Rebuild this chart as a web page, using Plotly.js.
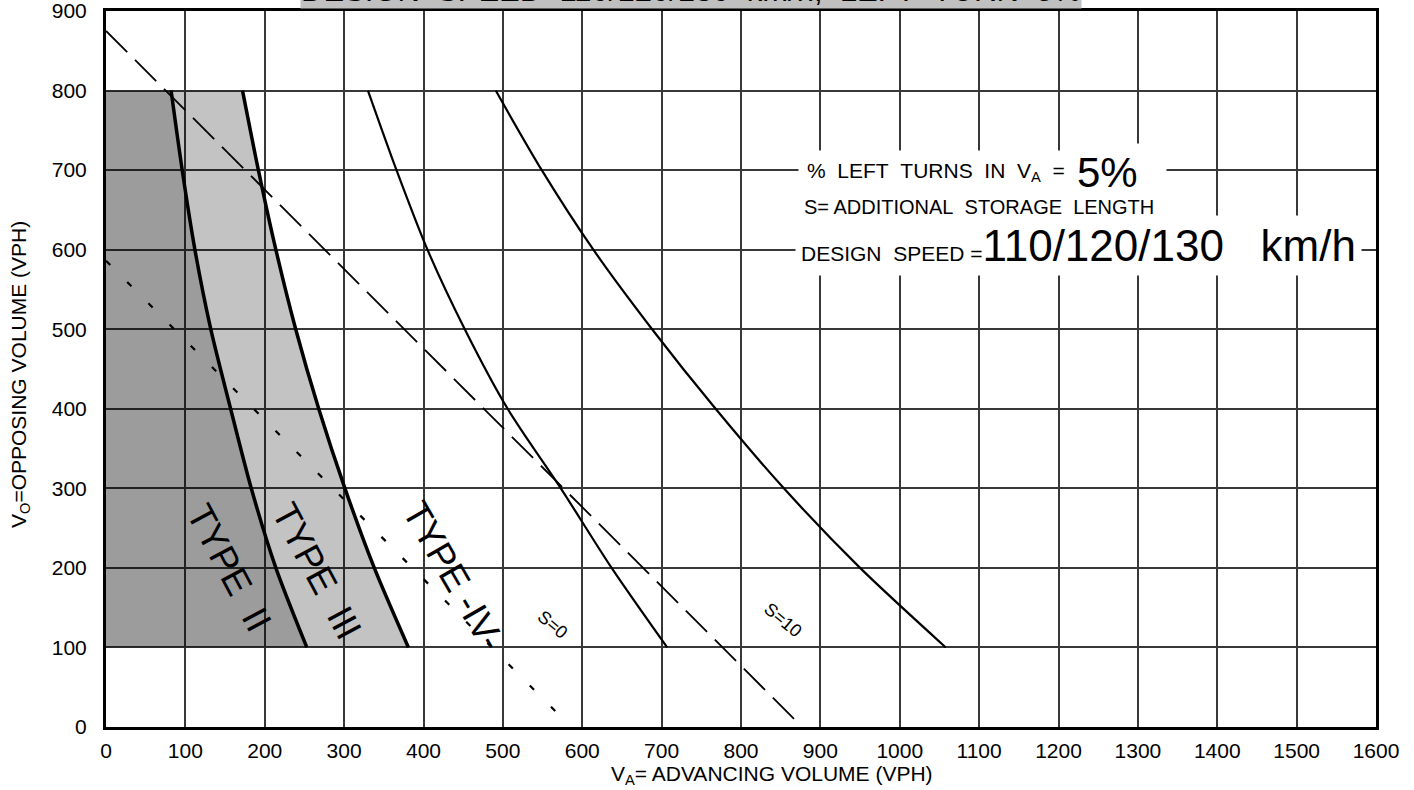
<!DOCTYPE html>
<html>
<head>
<meta charset="utf-8">
<script src="https://cdn.plot.ly/plotly-3.0.1.min.js"></script>
<style>
html,body{margin:0;padding:0;background:#fff;}
#chart{width:1414px;height:790px;}
</style>
</head>
<body>
<div id="chart"></div>
<script>
// ---- data ----
const levels = [800, 700, 600, 500, 400, 300, 200, 100];          // V0 levels (VPH)
const typeIIBoundary = [82, 96, 112, 132, 157, 183, 214, 253];    // VA on TYPE II / III boundary
const typeIIIBoundary = [172, 192, 214, 239, 268, 301, 338, 381]; // VA on TYPE III / IV boundary
const s0Curve = [330, 366, 405, 452, 506, 573, 637, 707];         // S=0
const s10Curve = [491, 549, 614, 688, 768, 854, 950, 1058];       // S=10
const dashedX = [0, 869];
const dashedY = [875, 8];
const dottedX = [0, 570];
const dottedY = [586, 16];
const xTicks = [0,100,200,300,400,500,600,700,800,900,1000,1100,1200,1300,1400,1500,1600];
const xTickText = xTicks.map(String);
const yTicks = [0,100,200,300,400,500,600,700,800,900];
const yTickText = yTicks.map(String);
const typeLabels = ["TYPE\u00a0\u00a0II", "TYPE\u00a0\u00a0III", "TYPE\u00a0-IV-"];
const curveLabels = ["S=0", "S=10"];

const FONT = "Liberation Sans, Arial, sans-serif";
const sp2 = "\u00a0\u00a0";

const traces = [
  { x: levels.map(() => 0), y: levels, mode: "lines", line: {width: 0, color: "rgba(0,0,0,0)"},
    hoverinfo: "skip", showlegend: false },
  { x: typeIIBoundary, y: levels, mode: "lines", fill: "tonextx", fillcolor: "rgba(0,0,0,0.39)",
    line: {color: "#000", width: 3.5, shape: "spline", smoothing: 0.8}, showlegend: false },
  { x: typeIIIBoundary, y: levels, mode: "lines", fill: "tonextx", fillcolor: "rgba(0,0,0,0.235)",
    line: {color: "#000", width: 3.5, shape: "spline", smoothing: 0.8}, showlegend: false },
  { x: s0Curve, y: levels, mode: "lines",
    line: {color: "#000", width: 2.2, shape: "spline", smoothing: 0.8}, showlegend: false },
  { x: s10Curve, y: levels, mode: "lines",
    line: {color: "#000", width: 2.2, shape: "spline", smoothing: 0.8}, showlegend: false },
  { x: dashedX, y: dashedY, mode: "lines",
    line: {color: "#000", width: 1.8, dash: "30px,11px"}, showlegend: false },
  { x: dottedX, y: dottedY, mode: "lines",
    line: {color: "#000", width: 2.2, dash: "6px,24px"}, showlegend: false }
];

const annotations = [
  // region labels
  {text: typeLabels[0], x: 154.6, y: 200, xref: "x", yref: "y", showarrow: false, textangle: 62,
   font: {size: 37, color: "#000", family: FONT}},
  {text: typeLabels[1], x: 266, y: 196, xref: "x", yref: "y", showarrow: false, textangle: 62,
   font: {size: 37, color: "#000", family: FONT}},
  {text: typeLabels[2], x: 437, y: 190, xref: "x", yref: "y", showarrow: false, textangle: 60,
   font: {size: 37, color: "#000", family: FONT}},
  {text: curveLabels[0], x: 563, y: 128, xref: "x", yref: "y", showarrow: false, textangle: 40,
   font: {size: 18, color: "#000", family: FONT}},
  {text: curveLabels[1], x: 853, y: 135, xref: "x", yref: "y", showarrow: false, textangle: 40,
   font: {size: 18, color: "#000", family: FONT}},
  // info box
  {text: "%" + sp2 + "LEFT" + sp2 + "TURNS" + sp2 + "IN" + sp2 + "V<sub>A</sub>" + sp2 + "=", x: 871.5, y: 697.6, xref: "x", yref: "y",
   xanchor: "left", yanchor: "middle", showarrow: false, bgcolor: "#fff", borderpad: 8,
   font: {size: 21, color: "#000", family: FONT}},
  {text: "5%" + sp2, x: 1216, y: 697, xref: "x", yref: "y",
   xanchor: "left", yanchor: "middle", showarrow: false, bgcolor: "#fff", borderpad: 5,
   font: {size: 42, color: "#000", family: FONT}},
  {text: "S= ADDITIONAL" + sp2 + "STORAGE" + sp2 + "LENGTH", x: 870.2, y: 653.6, xref: "x", yref: "y",
   xanchor: "left", yanchor: "middle", showarrow: false, bgcolor: "#fff", borderpad: 6,
   font: {size: 20, color: "#000", family: FONT}},
  {text: "DESIGN" + sp2 + "SPEED =<span style='font-size:44px'>110/120/130" + sp2 + "\u00a0km/h</span>",
   x: 867.7, y: 605, xref: "x", yref: "y",
   xanchor: "left", yanchor: "middle", showarrow: false, bgcolor: "#fff", borderpad: 5,
   font: {size: 21, color: "#000", family: FONT}},
  // axis titles
  {text: "V<sub>A</sub>= ADVANCING VOLUME (VPH)", x: 0.5248, y: -0.0665, xref: "paper", yref: "paper",
   xanchor: "center", yanchor: "middle", showarrow: false,
   font: {size: 21, color: "#000", family: FONT}},
  {text: "V<sub>O</sub>=OPPOSING VOLUME (VPH)", x: -0.0677, y: 0.4916, xref: "paper", yref: "paper",
   xanchor: "center", yanchor: "middle", showarrow: false, textangle: -90,
   font: {size: 21, color: "#000", family: FONT}},
  // cut-off header banner
  {text: "DESIGN" + sp2 + "SPEED" + sp2 + "110/120/130" + sp2 + "km/h," + sp2 + "LEFT" + sp2 + "TURN" + sp2 + "5%",
   x: 0.461, y: 1.0028, xref: "paper", yref: "paper", xanchor: "center", yanchor: "bottom",
   showarrow: false, bgcolor: "#c0c0c0", borderpad: 0,
   font: {size: 31, color: "#000", family: FONT}}
];

const axisCommon = {
  showgrid: true, gridcolor: "#383838", gridwidth: 2, zeroline: false,
  showline: true, mirror: true, linecolor: "#000", linewidth: 3,
  ticks: "", tickfont: {size: 21, color: "#000", family: FONT}, fixedrange: true,
  ticklabeloverflow: "allow"
};

const layout = {
  width: 1414, height: 790,
  margin: {l: 106, r: 38, t: 11, b: 63},
  paper_bgcolor: "#fff", plot_bgcolor: "#fff",
  font: {family: FONT, color: "#000"},
  showlegend: false,
  xaxis: Object.assign({}, axisCommon, {range: [0, 1600], tickvals: xTicks, ticktext: xTickText,
    ticklabelstandoff: 3}),
  yaxis: Object.assign({}, axisCommon, {range: [0, 900], tickvals: yTicks, ticktext: yTickText,
    ticklabelstandoff: 12}),
  annotations: annotations
};

Plotly.newPlot("chart", traces, layout, {displayModeBar: false, staticPlot: true});
</script>
</body>
</html>
